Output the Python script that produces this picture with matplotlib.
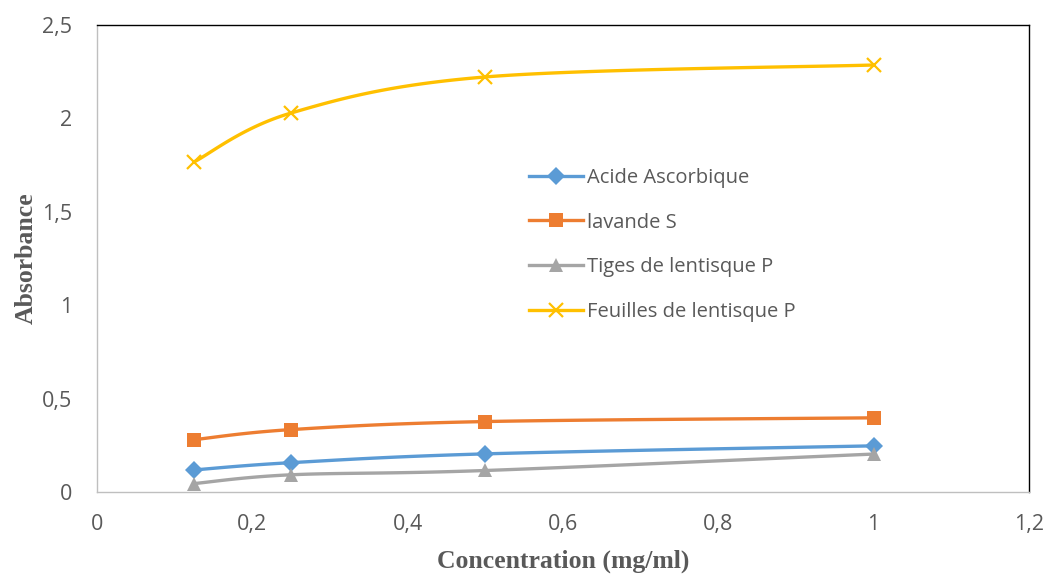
import numpy as np
import matplotlib
matplotlib.use("Agg")
import matplotlib.pyplot as plt

conc = [0.125, 0.25, 0.5, 1.0]
acide = [0.118, 0.157, 0.204, 0.247]
lavande = [0.280, 0.334, 0.377, 0.397]
tiges = [0.045, 0.092, 0.115, 0.203]
feuilles = [1.767, 2.029, 2.222, 2.286]

series = [
    ("Acide Ascorbique", acide, "#5B9BD5", "D", 9),
    ("lavande S", lavande, "#ED7D31", "s", 10),
    ("Tiges de lentisque P", tiges, "#A5A5A5", "^", 10),
    ("Feuilles de lentisque P", feuilles, "#FFC000", "x", 10),
]

fig = plt.figure(figsize=(10.46, 5.74), dpi=100)
ax = fig.add_axes([0.0927, 0.1429, 0.8910, 0.8135])
ax.set_xlim(0, 1.2)
ax.set_ylim(0, 2.5)

W, H = 932.0, 467.0

def smooth(xs, ys, n=40, t=0.5):
    px = np.array(xs) / 1.2 * W
    py = np.array(ys) / 2.5 * H
    P = np.column_stack([px, py])
    out = []
    m = len(P)
    for i in range(m - 1):
        p0 = P[i - 1] if i > 0 else P[i]
        p1 = P[i]
        p2 = P[i + 1]
        p3 = P[i + 2] if i + 2 < m else P[i + 1]
        c1 = p1 + (p2 - p0) * t / 3
        c2 = p2 - (p3 - p1) * t / 3
        s = np.linspace(0, 1, n)[:, None]
        seg = (1 - s) ** 3 * p1 + 3 * (1 - s) ** 2 * s * c1 + 3 * (1 - s) * s ** 2 * c2 + s ** 3 * p2
        out.append(seg if i == 0 else seg[1:])
    out = np.vstack(out)
    return out[:, 0] / W * 1.2, out[:, 1] / H * 2.5

for label, ys, col, mk, ms in series:
    sx, sy = smooth(conc, ys)
    ax.plot(sx, sy, color=col, lw=2.4, solid_capstyle="round", zorder=2)
    mew = 1.6 if mk == "x" else 0
    ax.plot(conc, ys, linestyle="none", marker=mk, color=col, markersize=ms,
            markeredgewidth=mew, markeredgecolor=col, zorder=3)
    ax.plot([], [], color=col, lw=2.4, marker=mk, markersize=ms,
            markeredgewidth=mew, markeredgecolor=col, label=label)

ax.set_xticks([0, 0.2, 0.4, 0.6, 0.8, 1.0, 1.2])
ax.set_xticklabels(["0", "0,2", "0,4", "0,6", "0,8", "1", "1,2"])
ax.set_yticks([0, 0.5, 1, 1.5, 2, 2.5])
ax.set_yticklabels(["0", "0,5", "1", "1,5", "2", "2,5"])
ax.tick_params(length=0, labelsize=15.5, colors="#595959")
ax.tick_params(axis="x", pad=16)
ax.tick_params(axis="y", pad=18)
for lab in ax.get_xticklabels() + ax.get_yticklabels():
    lab.set_family("Open Sans")

ax.spines["left"].set_color("#BFBFBF")
ax.spines["bottom"].set_color("#BFBFBF")
ax.spines["top"].set_color("#000000")
ax.spines["right"].set_color("#000000")
for s in ax.spines.values():
    s.set_linewidth(1.0)

ax.set_xlabel("Concentration (mg/ml)", family="Liberation Serif", fontweight="bold",
              fontsize=18.5, color="#595959", labelpad=10)
ax.set_ylabel("Absorbance", family="Liberation Serif", fontweight="bold",
              fontsize=18.5, color="#595959", labelpad=3)

leg = ax.legend(loc="upper left", bbox_to_anchor=(0.4885, 0.739), bbox_transform=fig.transFigure,
                frameon=False, labelspacing=1.22, handlelength=2.7,
                handletextpad=0.2, prop={"family": "Open Sans", "size": 14.5})
for t in leg.get_texts():
    t.set_color("#595959")

fig.savefig("out.png", dpi=100)
